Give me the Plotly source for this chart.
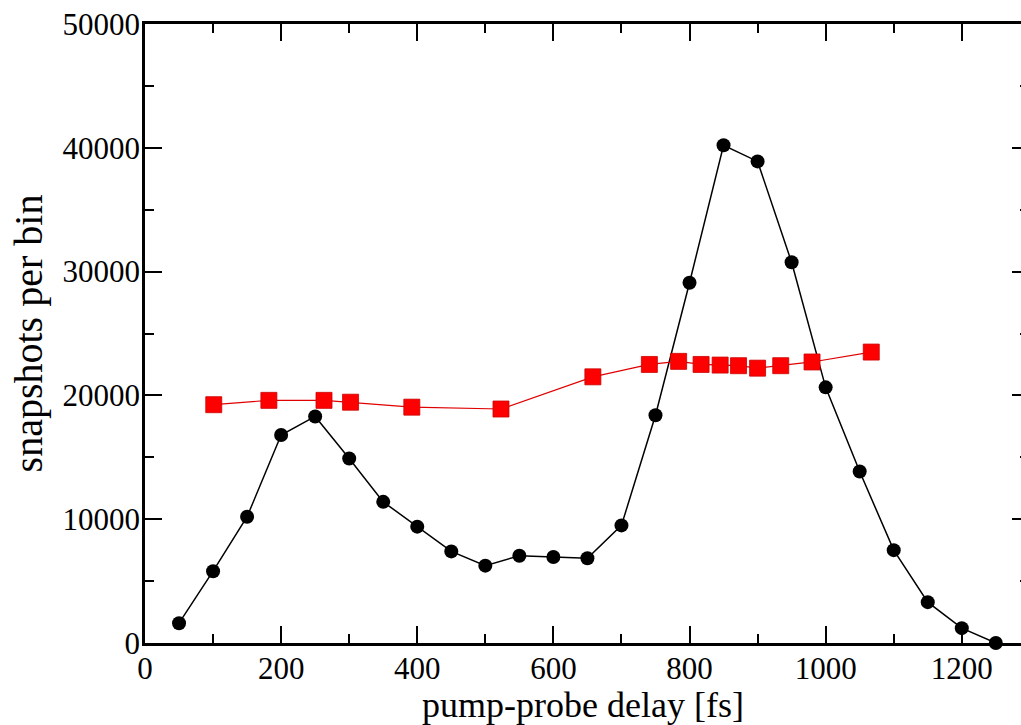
import plotly.graph_objects as go

# Snapshot counts per delay bin (black: all snapshots, red: second data set)
delay_black = [50, 100, 150, 200, 250, 300, 350, 400, 450, 500, 550, 600, 650,
               700, 750, 800, 850, 900, 950, 1000, 1050, 1100, 1150, 1200, 1250]
counts_black = [1600, 5800, 10200, 16800, 18300, 14900, 11400, 9400, 7400, 6250,
                7050, 6950, 6850, 9500, 18400, 29100, 40200, 38900, 30750, 20650,
                13850, 7500, 3300, 1200, 0]

delay_red = [101, 182, 263, 302, 392, 523, 658, 741, 784, 817, 845, 872, 900,
             934, 980, 1067]
counts_red = [19250, 19600, 19600, 19450, 19050, 18900, 21500, 22500, 22750,
              22500, 22450, 22400, 22200, 22400, 22700, 23500]

x_range = [0, 1287]
y_range = [0, 50000]

FONT = "Liberation Serif"

fig = go.Figure()

fig.add_trace(go.Scatter(
    x=delay_black, y=counts_black, mode="lines+markers",
    line=dict(color="black", width=1.5),
    marker=dict(symbol="circle", size=14, color="black"),
    cliponaxis=False, showlegend=False,
))

fig.add_trace(go.Scatter(
    x=delay_red, y=counts_red, mode="lines+markers", yaxis="y2",
    line=dict(color="#e00000", width=1.2),
    marker=dict(symbol="square", size=16, color="#ff0000",
                line=dict(color="#cc0000", width=0.8)),
    cliponaxis=False, showlegend=False,
))

fig.update_layout(
    width=1021, height=725, autosize=False,
    margin=dict(l=145, r=0, t=24, b=82, pad=0),
    paper_bgcolor="white", plot_bgcolor="white",
    font=dict(family=FONT, color="black"),
    xaxis=dict(
        range=x_range, tickmode="linear", tick0=0, dtick=200,
        showgrid=False, zeroline=False,
        showline=True, linewidth=2.5, linecolor="black", mirror="ticks",
        ticks="inside", ticklen=17, tickwidth=2, tickcolor="black",
        tickfont=dict(family=FONT, size=31), ticklabelstandoff=-4,
        minor=dict(dtick=100, ticks="inside", ticklen=9, tickwidth=2,
                   tickcolor="black", showgrid=False),
        title=dict(text="pump-probe delay [fs]", font=dict(family=FONT, size=36),
                   standoff=8),
    ),
    yaxis=dict(
        range=y_range, tickmode="linear", tick0=0, dtick=10000,
        tickformat="d",
        showgrid=False, zeroline=False,
        showline=True, linewidth=2.5, linecolor="black", mirror=False,
        ticks="inside", ticklen=17, tickwidth=2, tickcolor="black",
        tickfont=dict(family=FONT, size=31), ticklabelstandoff=-4,
        minor=dict(dtick=5000, ticks="inside", ticklen=9, tickwidth=2,
                   tickcolor="black", showgrid=False),
        title=dict(text="snapshots per bin", font=dict(family=FONT, size=40),
                   standoff=8),
    ),
    yaxis2=dict(
        range=y_range, overlaying="y", side="right", anchor="x",
        tickmode="linear", tick0=0, dtick=10000,
        showgrid=False, zeroline=False, showline=False, showticklabels=False,
        ticks="inside", ticklen=9, tickwidth=2, tickcolor="black",
        minor=dict(dtick=5000, ticks="inside", ticklen=1, tickwidth=2,
                   tickcolor="black", showgrid=False),
    ),
)

fig.write_html("out.html")
